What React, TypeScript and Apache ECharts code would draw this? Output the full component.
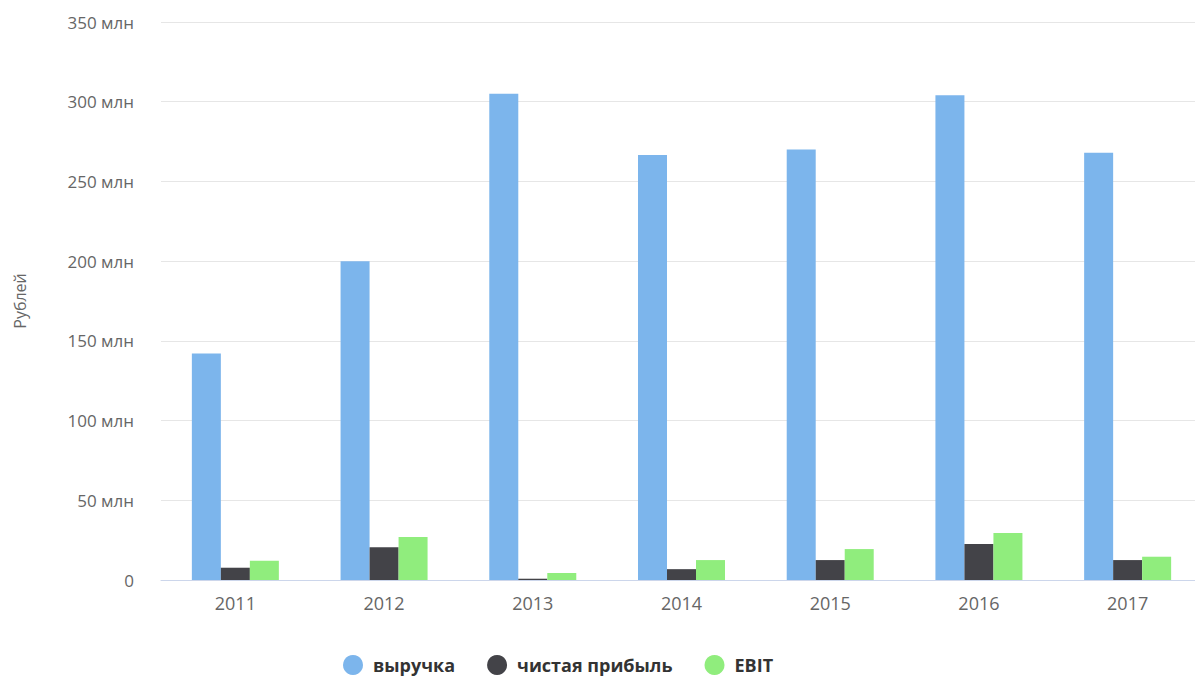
import React, { useEffect, useRef } from "react";
import * as echarts from "echarts";

const years = ["2011", "2012", "2013", "2014", "2015", "2016", "2017"];
const revenue = [142, 200, 305, 266.5, 270, 304, 268];
const netProfit = [7.7, 20.5, 0.8, 6.8, 12.5, 22.6, 12.5];
const ebit = [12.1, 27, 4.4, 12.5, 19.4, 29.5, 14.6];
const seriesNames = ["выручка", "чистая прибыль", "EBIT"];
const colors = ["#7cb5ec", "#434348", "#90ed7d"];

export default function App() {
  const ref = useRef<HTMLDivElement>(null);
  useEffect(() => {
    if (!ref.current) return;
    const chart = echarts.init(ref.current, null, { renderer: "svg" });
    const data = [revenue, netProfit, ebit];
    chart.setOption({
      animation: false,
      color: colors,
      textStyle: { fontFamily: "Open Sans" },
      grid: { left: 161, right: 0, top: 22, bottom: 96, containLabel: false },
      legend: {
        left: 338,
        top: 650,
        icon: "circle",
        itemWidth: 20,
        itemHeight: 20,
        itemGap: 32,
        textStyle: {
          fontFamily: "Open Sans",
          fontSize: 18,
          fontWeight: "bold",
          color: "#333",
          padding: [0, 0, 0, 5],
        },
        data: seriesNames,
      },
      xAxis: {
        type: "category",
        data: years,
        axisLine: { lineStyle: { color: "#ccd6eb" } },
        axisTick: { show: false },
        axisLabel: { color: "#666", fontSize: 18, margin: 14 },
      },
      yAxis: {
        type: "value",
        min: 0,
        max: 350,
        interval: 50,
        name: "Рублей",
        nameLocation: "middle",
        nameGap: 133,
        nameTextStyle: { color: "#666", fontSize: 16 },
        axisLabel: {
          color: "#666",
          fontSize: 17,
          margin: 27,
          formatter: (v: number) => (v === 0 ? "0" : v + " млн"),
        },
        splitLine: { lineStyle: { color: "#e6e6e6" } },
      },
      series: seriesNames.map((n, i) => ({
        name: n,
        type: "bar",
        data: data[i],
        barWidth: 29,
        barGap: "0%",
        itemStyle: { color: colors[i] },
      })),
    });
    return () => chart.dispose();
  }, []);
  return (
    <div
      style={{ position: "absolute", left: 0, top: 0, width: 1195, height: 676, overflow: "hidden", background: "#fff" }}
    >
      <div ref={ref} style={{ width: 1202, height: 676 }} />
    </div>
  );
}
